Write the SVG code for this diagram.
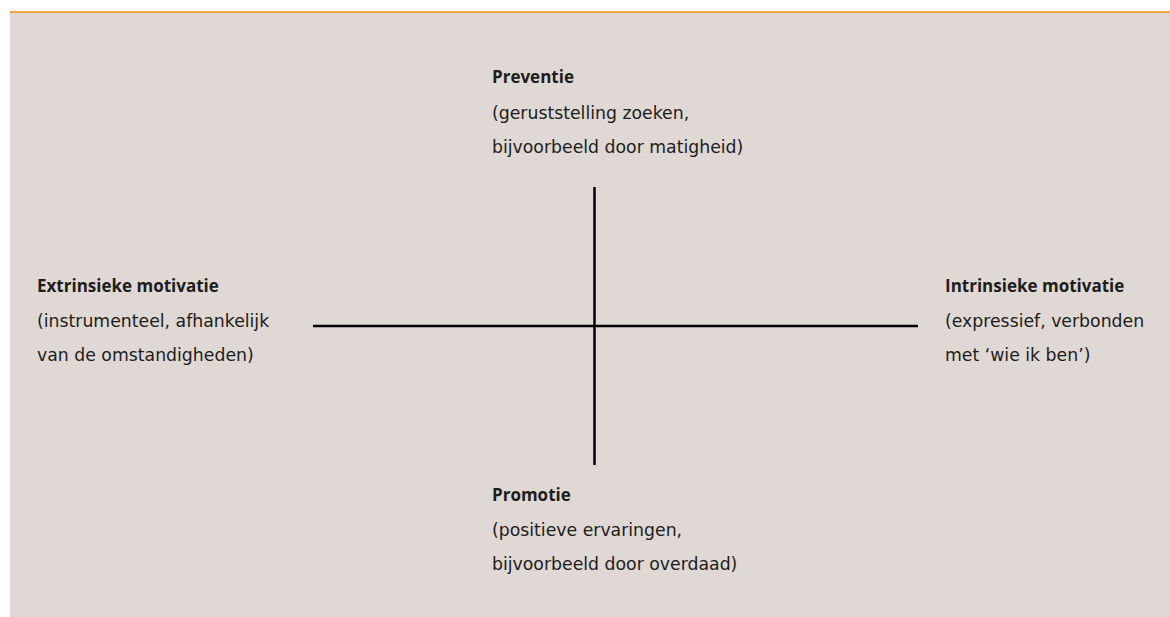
<svg xmlns="http://www.w3.org/2000/svg" width="1170" height="617" viewBox="0 0 1170 617">
<style>
.t{font-family:"DejaVu Sans","Open Sans",sans-serif;font-size:17.3px;fill:#1d1d1b}
.b{font-family:"Open Sans","DejaVu Sans",sans-serif;font-size:17px;font-weight:bold}
.ax{stroke:#000;stroke-width:2.5;fill:none}
</style>
<rect x="0" y="0" width="1170" height="617" fill="#ffffff"/>
<rect x="10" y="12" width="1160" height="605" fill="#e0d8d5"/>
<line x1="10" y1="12" x2="1170" y2="12" stroke="#f39200" stroke-width="1.5"/>
<g id="connectors">
<line class="ax" x1="594.5" y1="187" x2="594.5" y2="465"/>
<line class="ax" x1="313" y1="326" x2="918" y2="326"/>
</g>
<g id="node-preventie">
<text class="t b" x="492" y="83">Preventie</text>
<text class="t" x="492" y="118.5">(geruststelling zoeken,</text>
<text class="t" x="492" y="153">bijvoorbeeld door matigheid)</text>
</g>
<g id="node-extrinsiek">
<text class="t b" x="37" y="292">Extrinsieke motivatie</text>
<text class="t" x="37" y="326.5">(instrumenteel, afhankelijk</text>
<text class="t" x="37" y="361">van de omstandigheden)</text>
</g>
<g id="node-intrinsiek">
<text class="t b" x="945" y="292">Intrinsieke motivatie</text>
<text class="t" x="945" y="326.5">(expressief, verbonden</text>
<text class="t" x="945" y="361">met ‘wie ik ben’)</text>
</g>
<g id="node-promotie">
<text class="t b" x="492" y="501">Promotie</text>
<text class="t" x="492" y="536">(positieve ervaringen,</text>
<text class="t" x="492" y="570">bijvoorbeeld door overdaad)</text>
</g>
</svg>
